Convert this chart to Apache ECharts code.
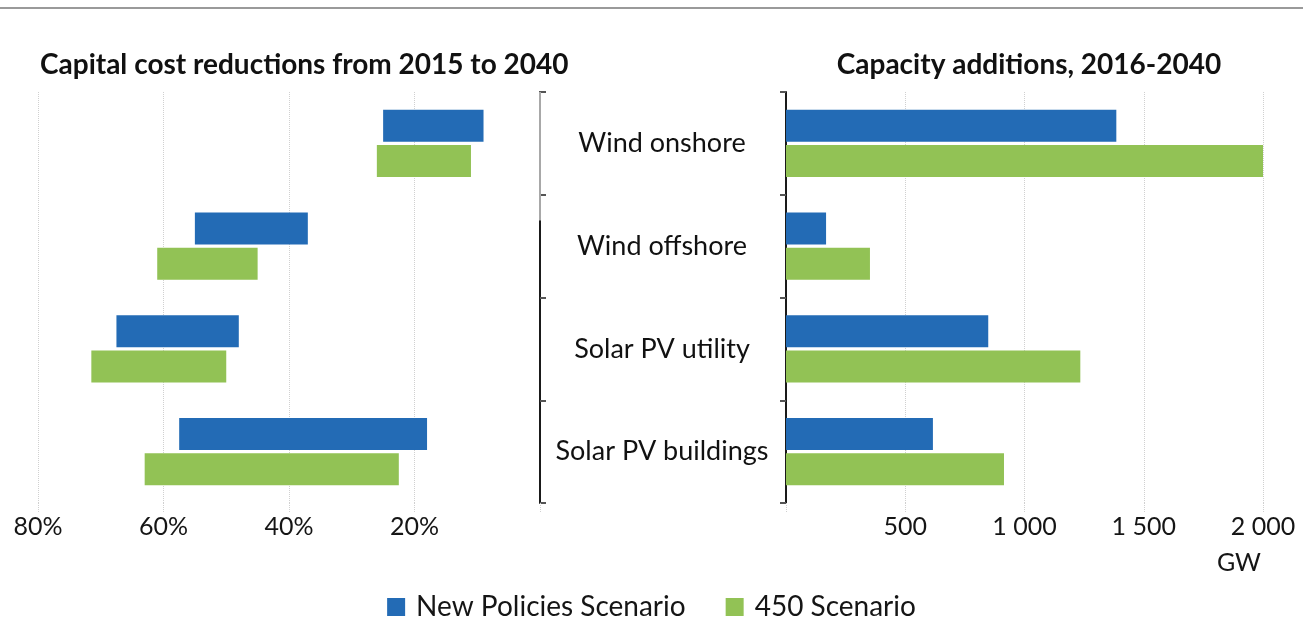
<!DOCTYPE html>
<html>
<head>
<meta charset="utf-8">
<script src="https://cdn.jsdelivr.net/npm/echarts@6/dist/echarts.min.js"></script>
<style>
html,body{margin:0;padding:0;background:#fff;}
#chart{width:1303px;height:618px;}
</style>
</head>
<body>
<div id="chart"></div>
<script>
const categories = ['Wind onshore', 'Wind offshore', 'Solar PV utility', 'Solar PV buildings'];
// Capital cost reductions 2015-2040 (%), ranges low..high
const npsCostLow  = [9, 37, 48, 18];
const npsCostHigh = [25, 55, 67.5, 57.5];
const s450CostLow  = [11, 45, 50, 22.5];
const s450CostHigh = [26, 61, 71.5, 63];
// Capacity additions 2016-2040 (GW)
const npsCapacity  = [1385, 168, 848, 616];
const s450Capacity = [2000, 352, 1234, 914];
const costTicks = [0, 20, 40, 60, 80];
const capTicks = [0, 500, 1000, 1500, 2000];
const seriesNames = ['New Policies Scenario', '450 Scenario'];

const BLUE = '#236bb5';
const GREEN = '#92c255';
const FONT = 'Lato';
const TXT = '#151515';

function diff(hi, lo) { return hi.map((v, i) => +(v - lo[i]).toFixed(2)); }
function fmtCap(v) {
  if (v === 0) return '';
  if (v >= 1000) return Math.floor(v / 1000) + ' ' + String(v % 1000).padStart(3, '0');
  return String(v);
}

const chart = echarts.init(document.getElementById('chart'), null, {renderer: 'canvas'});

const splitLine = {show: true, lineStyle: {color: '#d0d0d0', type: 'dotted', width: 1}};
const xTick = {show: true, length: 10, lineStyle: {color: '#d0d0d0', type: 'dotted'}};

chart.setOption({
  animation: false,
  textStyle: {fontFamily: FONT},
  title: [
    {text: 'Capital cost reductions from 2015 to 2040', left: 35, top: 46,
     textStyle: {fontFamily: FONT, fontWeight: 'bold', fontSize: 28, color: '#111'}},
    {text: 'Capacity additions, 2016-2040', left: 1024, top: 46, textAlign: 'center',
     textStyle: {fontFamily: FONT, fontWeight: 'bold', fontSize: 28, color: '#111'}}
  ],
  legend: {
    data: seriesNames,
    top: 588, left: 'center',
    itemWidth: 18, itemHeight: 18, itemGap: 40,
    icon: 'rect',
    textStyle: {fontFamily: FONT, fontSize: 28, color: TXT, padding: [0, 0, 0, 6]}
  },
  grid: [
    {left: 38, right: 1303 - 540, top: 92, bottom: 618 - 503},
    {left: 786, right: 1303 - 1263, top: 92, bottom: 618 - 503}
  ],
  xAxis: [
    {gridIndex: 0, type: 'value', min: costTicks[0], max: costTicks[costTicks.length - 1], interval: 20,
     inverse: true, axisLine: {show: false}, axisTick: xTick, splitLine: splitLine,
     axisLabel: {margin: 11, fontSize: 25, color: TXT, fontFamily: FONT,
       formatter: v => v === 0 ? '' : v + '%'}},
    {gridIndex: 1, type: 'value', min: capTicks[0], max: capTicks[capTicks.length - 1], interval: 500,
     axisLine: {show: false}, axisTick: xTick, splitLine: splitLine,
     axisLabel: {margin: 11, fontSize: 25, color: TXT, fontFamily: FONT, formatter: fmtCap}}
  ],
  yAxis: [
    {gridIndex: 0, type: 'category', data: categories, inverse: true, position: 'right',
     axisLine: {show: true, lineStyle: {color: '#1a1a1a', width: 2}},
     axisTick: {show: true, length: 6, lineStyle: {color: '#555', width: 2}},
     axisLabel: {show: false}, splitLine: {show: false}},
    {gridIndex: 1, type: 'category', data: categories, inverse: true, position: 'left',
     axisLine: {show: true, lineStyle: {color: '#1a1a1a', width: 2}},
     axisTick: {show: true, length: 6, lineStyle: {color: '#555', width: 2}},
     axisLabel: {show: true, align: 'center', margin: 124, fontSize: 27, color: '#111', fontFamily: FONT},
     splitLine: {show: false}}
  ],
  series: [
    {name: 'base-nps', type: 'bar', xAxisIndex: 0, yAxisIndex: 0, stack: 'nps', data: npsCostLow,
     barWidth: 32, barGap: '10%', itemStyle: {color: 'rgba(0,0,0,0)'}, silent: true},
    {name: seriesNames[0], type: 'bar', xAxisIndex: 0, yAxisIndex: 0, stack: 'nps',
     data: diff(npsCostHigh, npsCostLow), barWidth: 32, itemStyle: {color: BLUE}},
    {name: 'base-450', type: 'bar', xAxisIndex: 0, yAxisIndex: 0, stack: 's450', data: s450CostLow,
     barWidth: 32, barGap: '10%', itemStyle: {color: 'rgba(0,0,0,0)'}, silent: true},
    {name: seriesNames[1], type: 'bar', xAxisIndex: 0, yAxisIndex: 0, stack: 's450',
     data: diff(s450CostHigh, s450CostLow), barWidth: 32, itemStyle: {color: GREEN}},
    {name: seriesNames[0], type: 'bar', xAxisIndex: 1, yAxisIndex: 1, data: npsCapacity,
     barWidth: 32, barGap: '10%', itemStyle: {color: BLUE}},
    {name: seriesNames[1], type: 'bar', xAxisIndex: 1, yAxisIndex: 1, data: s450Capacity,
     barWidth: 32, barGap: '10%', itemStyle: {color: GREEN}}
  ]
});

// Decorations: top rule, unit label, and the lighter upper segment of the left category axis
const axisX = chart.convertToPixel({xAxisIndex: 0}, 0);
const y0 = chart.convertToPixel({yAxisIndex: 0}, categories[0]);
const y1 = chart.convertToPixel({yAxisIndex: 0}, categories[1]);
const band = y1 - y0;
const axisTop = y0 - band / 2;
const grayEnd = axisTop + band * 1.25;
const gwX = chart.convertToPixel({xAxisIndex: 1}, capTicks[capTicks.length - 1]);
chart.setOption({
  graphic: [
    {type: 'rect', shape: {x: 0, y: 7, width: 1303, height: 2}, style: {fill: '#9a9a9a'}, silent: true},
    {type: 'line', shape: {x1: axisX, y1: axisTop, x2: axisX, y2: grayEnd},
     style: {stroke: '#a8a8a8', lineWidth: 2}, silent: true, z: 10},
    {type: 'text', x: gwX - 2, y: 563, style: {text: 'GW', font: '25px ' + FONT, fill: TXT,
     textAlign: 'right', textVerticalAlign: 'middle'}, z: 10}
  ]
});
</script>
</body>
</html>
